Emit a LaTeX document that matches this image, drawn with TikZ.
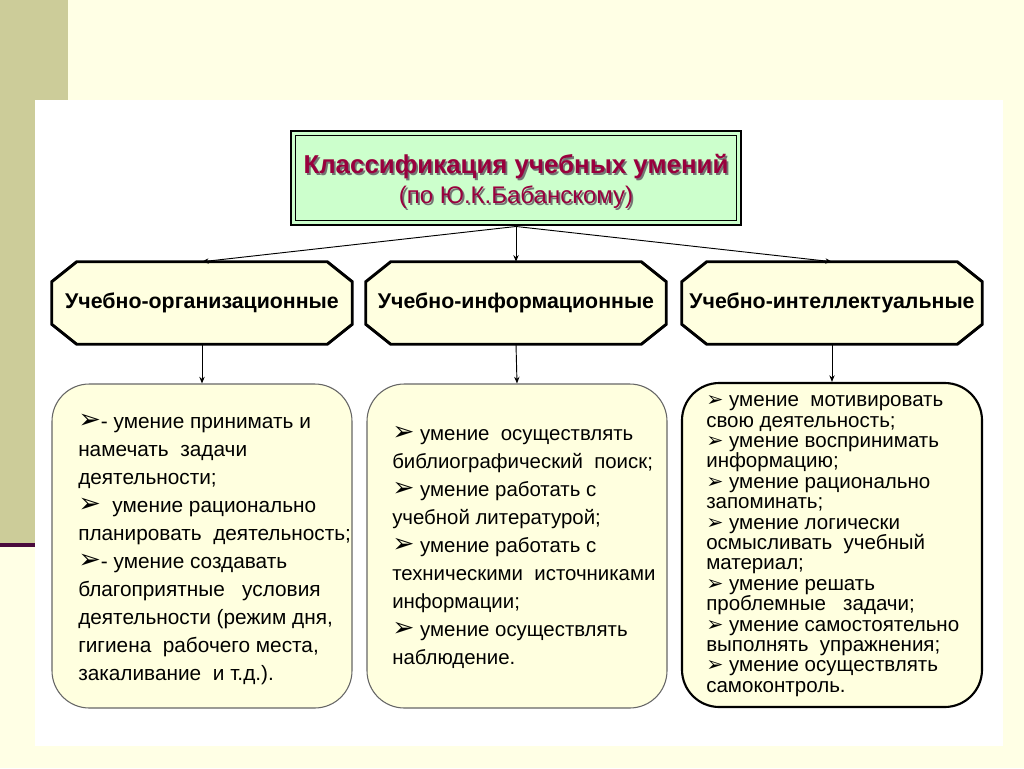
\documentclass[tikz,border=0pt]{standalone}
\usepackage{fontspec}
\setmainfont{Liberation Sans}
\newfontfamily\dingfont{DejaVu Sans}
\usetikzlibrary{arrows.meta,positioning,calc,backgrounds}
\definecolor{pagebg}{HTML}{FFFFE5}
\definecolor{stripe}{HTML}{CCCC99}
\definecolor{rulecol}{HTML}{4A0A3C}
\definecolor{titlefill}{HTML}{CCFFCC}
\definecolor{titletext}{HTML}{99003D}
\definecolor{hexfill}{HTML}{FFFFE0}
\definecolor{boxfill}{HTML}{FFFFDF}
\newcommand{\bul}{{\dingfont\scalebox{1.3}{➢}}}
\newcommand{\bulsm}{{\dingfont ➢}}
\newcommand{\shadowtxt}[1]{\makebox[0pt][l]{\hspace{1.3pt}\raisebox{-1.3pt}{\textcolor{black!55}{#1}}}#1}

\begin{document}
\begin{tikzpicture}[x=0.75pt, y=-0.75pt, >=Stealth,
    hexbox/.style={minimum width=225pt, minimum height=61.5pt,
                   font=\fontsize{16}{19}\selectfont\bfseries, inner sep=0pt},
    hexline/.style={draw, line width=2.2pt, fill=hexfill, line join=miter},
    listbox/.style={draw=#1, fill=boxfill, rounded corners=28pt,
                    minimum width=225pt, minimum height=243pt},
    listtext/.style={anchor=west, align=left, inner sep=0pt},
    link/.style={->, line width=0.7pt,
                 arrows={-Stealth[length=5pt, width=4pt]}}]
  \useasboundingbox (0,0) rectangle (1024,768);

  %% Title
  \node[draw, line width=2.2pt, fill=titlefill, text=titletext,
        minimum width=337.5pt, minimum height=70.5pt, align=center] (title) at (516,178)
    {{\fontsize{19.4}{21}\selectfont\bfseries\rule{0pt}{21pt}\shadowtxt{Классификация учебных умений}}\\[3pt]
     {\fontsize{18}{21}\selectfont\shadowtxt{(по Ю.К.Бабанскому)}}};
  \draw[line width=0.8pt] ($(title.north west)+(6,6)$) rectangle ($(title.south east)+(-6,-6)$);

  %% Groups
  \node[hexbox] (org)   at (202,303) {Учебно-организационные};
  \node[hexbox] (inf)   at (516,303) {Учебно-информационные};
  \node[hexbox] (intel) at (832,303) {Учебно-интеллектуальные};

  %% Lists
  \node[listbox=gray!80!black, line width=0.8pt] (orgl)   at (202,546) {};
  \node[listbox=gray!80!black, line width=0.8pt] (infl)   at (517,546) {};
  \node[listbox=black, line width=1.6pt]         (intell) at (832,545) {};

  \node[listtext, font=\fontsize{15.6}{21}\selectfont] (orgt) at (78,549)
    {\bul- умение принимать и\\
     намечать\ \ задачи\\
     деятельности;\\
     \bul\ \ умение рационально\\
     планировать\ \ деятельность;\\
     \bul- умение создавать\\
     благоприятные\ \ \ условия\\
     деятельности (режим дня,\\
     гигиена\ \ рабочего места,\\
     закаливание\ \ и т.д.).};
  \node[listtext, font=\fontsize{15.3}{21}\selectfont] (inft) at (392,547)
    {\bul\ умение\ \ осуществлять\\
     библиографический\ \ поиск;\\
     \bul\ умение работать с\\
     учебной литературой;\\
     \bul\ умение работать с\\
     техническими\ \ источниками\\
     информации;\\
     \bul\ умение осуществлять\\
     наблюдение.};
  \node[listtext, font=\fontsize{15.4}{15.3}\selectfont] (intelt) at (706,546)
    {\bulsm\ умение\ \ мотивировать\\
     свою деятельность;\\
     \bulsm\ умение воспринимать\\
     информацию;\\
     \bulsm\ умение рационально\\
     запоминать;\\
     \bulsm\ умение логически\\
     осмысливать\ \ учебный\\
     материал;\\
     \bulsm\ умение решать\\
     проблемные\ \ \ задачи;\\
     \bulsm\ умение самостоятельно\\
     выполнять\ \ упражнения;\\
     \bulsm\ умение осуществлять\\
     самоконтроль.};

  %% Arrows
  \draw[link] (title.south) -- (org.north);
  \draw[link] (title.south) -- (inf.north);
  \draw[link] (title.south) -- (intel.north);
  \draw[link] (org.south)   -- (orgl.north);
  \draw[link] (inf.south)   -- (infl.north);
  \draw[link] (intel.south) -- (intell.north);

  %% Slide background and octagons
  \begin{scope}[on background layer]
    \fill[pagebg] (0,0) rectangle (1024,768);
    \fill[stripe] (0,0) rectangle (68,545);
    \draw[rulecol, line width=3pt] (0,545) -- (36,545);
    \fill[white] (35,100) rectangle (1003,746);
    \foreach \n in {org,inf,intel}
      \draw[hexline] ($(\n.north west)+(25,0)$) -- ($(\n.north east)+(-25,0)$)
        -- ($(\n.north east)+(0,20)$) -- ($(\n.south east)+(0,-20)$)
        -- ($(\n.south east)+(-25,0)$) -- ($(\n.south west)+(25,0)$)
        -- ($(\n.south west)+(0,-20)$) -- ($(\n.north west)+(0,20)$) -- cycle;
  \end{scope}
\end{tikzpicture}
\end{document}
